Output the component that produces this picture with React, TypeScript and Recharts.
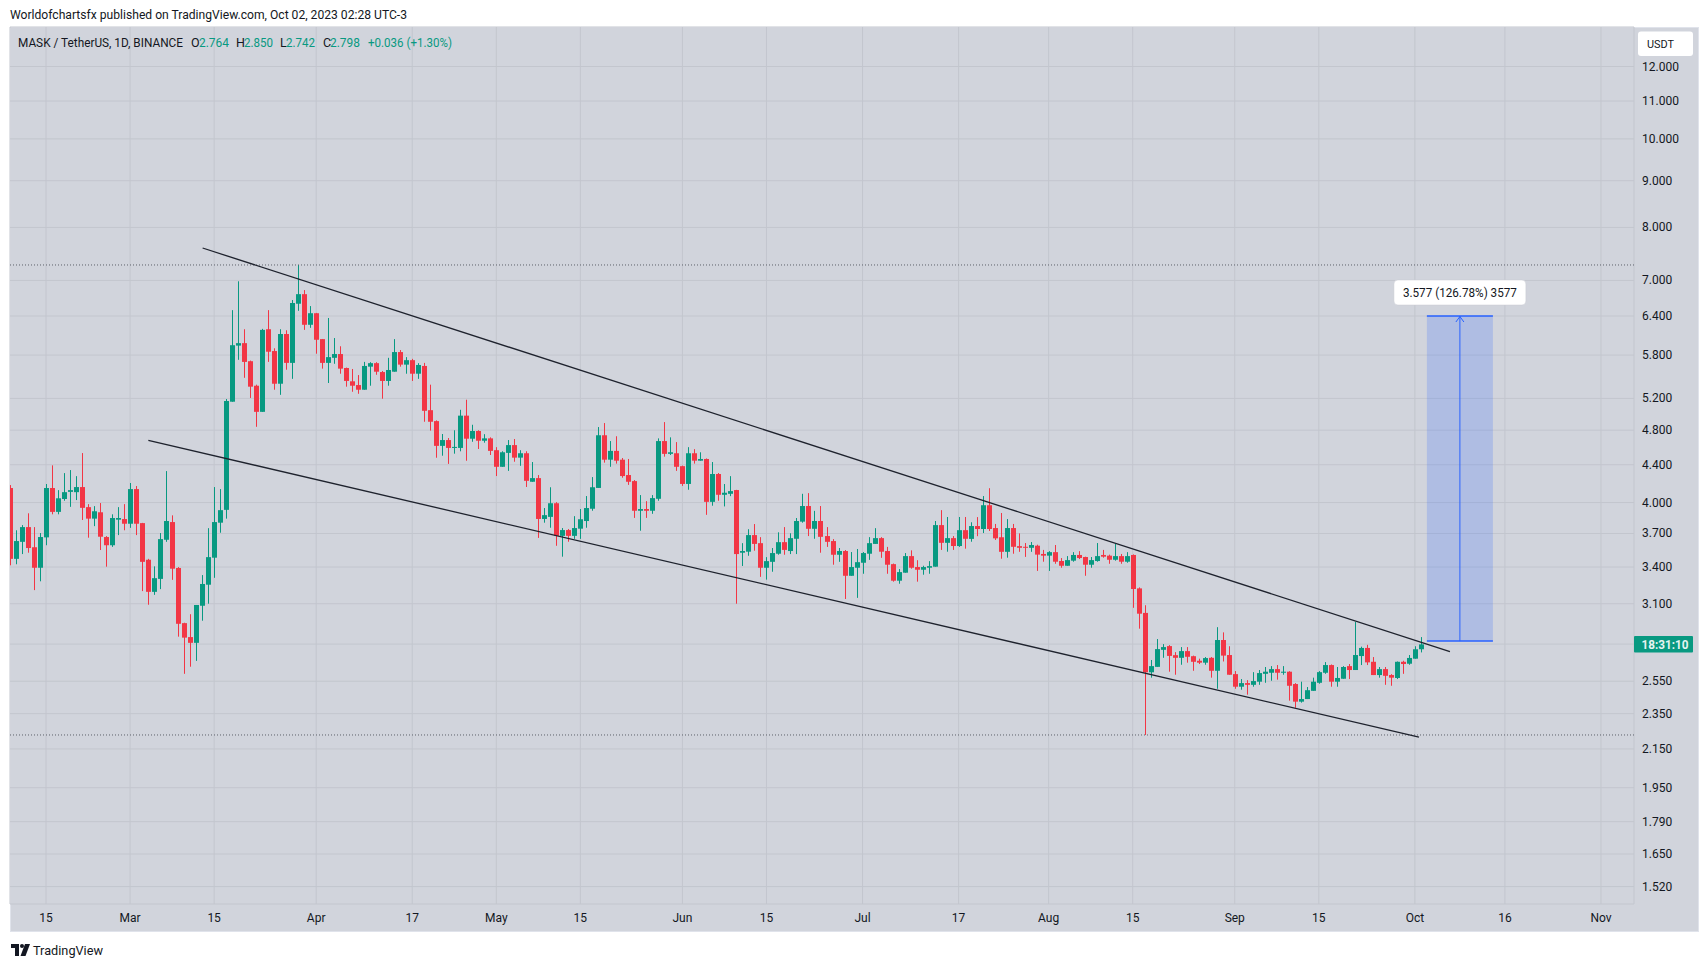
import React from 'react';
import {
  ComposedChart,
  Bar,
  XAxis,
  YAxis,
  CartesianGrid,
  ReferenceLine,
  ReferenceArea,
  ReferenceDot,
} from 'recharts';

// ---------- data ----------
// day-of-year of the first candle (2023-02-09), one candle per day
const FIRST_DAY = 40;

const open = [
  4.149, 3.471, 3.623, 3.76, 3.574, 3.394, 3.664, 4.149, 3.907, 4.036,
  4.109, 4.106, 4.159, 3.954, 3.841, 3.903, 3.667, 3.592, 3.831, 3.837,
  3.792, 4.138, 3.798, 3.463, 3.194, 3.3, 3.642, 3.808, 3.392, 2.952,
  2.85, 2.809, 3.084, 3.252, 3.481, 3.802, 3.927, 5.157, 5.94, 5.977,
  5.711, 5.369, 5.027, 6.19, 5.859, 5.396, 6.116, 5.687, 6.601, 6.762,
  6.26, 6.445, 6.038, 5.687, 5.76, 5.815, 5.614, 5.429, 5.378, 5.315,
  5.633, 5.683, 5.557, 5.434, 5.562, 5.844, 5.662, 5.726, 5.534, 5.643,
  5.048, 4.911, 4.614, 4.682, 4.59, 4.59, 4.979, 4.698, 4.79, 4.674,
  4.702, 4.564, 4.377, 4.533, 4.623, 4.479, 4.529, 4.215, 4.254, 3.838,
  3.858, 3.993, 3.678, 3.732, 3.678, 3.745, 3.818, 3.938, 4.15, 4.739,
  4.456, 4.556, 4.456, 4.287, 4.222, 3.918, 3.935, 3.918, 4.038, 4.67,
  4.522, 4.529, 4.384, 4.192, 4.529, 4.445, 4.464, 4.007, 4.298, 4.079,
  4.089, 4.128, 3.525, 3.534, 3.685, 3.611, 3.394, 3.445, 3.516, 3.62,
  3.54, 3.651, 3.812, 3.965, 3.744, 3.818, 3.676, 3.63, 3.507, 3.54,
  3.326, 3.394, 3.437, 3.516, 3.604, 3.657, 3.54, 3.425, 3.285, 3.352,
  3.495, 3.4, 3.377, 3.394, 3.403, 3.779, 3.614, 3.657, 3.585, 3.731,
  3.65, 3.77, 3.742, 3.973, 3.751, 3.665, 3.533, 3.751, 3.584, 3.578,
  3.569, 3.588, 3.514, 3.499, 3.53, 3.452, 3.411, 3.455, 3.505, 3.487,
  3.42, 3.452, 3.505, 3.499, 3.463, 3.495, 3.446, 3.505, 3.222, 3.029,
  2.608, 2.644, 2.76, 2.786, 2.723, 2.705, 2.751, 2.716, 2.685, 2.672,
  2.705, 2.618, 2.829, 2.724, 2.596, 2.515, 2.538, 2.527, 2.547, 2.598,
  2.605, 2.629, 2.605, 2.612, 2.532, 2.422, 2.438, 2.489, 2.54, 2.605,
  2.656, 2.547, 2.566, 2.649, 2.623, 2.717, 2.773, 2.678, 2.59, 2.629,
  2.59, 2.571, 2.678, 2.665, 2.699, 2.764,
];

const high = [
  4.18, 3.73, 3.779, 3.893, 3.76, 3.704, 4.191, 4.393, 4.127, 4.308,
  4.341, 4.275, 4.531, 3.984, 3.964, 3.995, 3.676, 3.883, 3.954, 3.984,
  4.202, 4.17, 3.8, 3.471, 3.406, 3.704, 4.33, 3.873, 3.4, 2.955,
  3.019, 3.09, 3.332, 3.75, 4.159, 4.138, 5.192, 6.495, 6.985, 6.19,
  5.72, 5.383, 6.196, 6.495, 5.9, 6.19, 6.174, 6.663, 7.278, 6.832,
  6.562, 6.45, 6.04, 6.368, 6.054, 5.93, 5.62, 5.6, 5.515, 5.701,
  5.697, 5.697, 5.572, 5.76, 6.038, 5.874, 5.77, 5.745, 5.683, 5.687,
  5.383, 4.92, 4.754, 4.706, 4.799, 5.053, 5.183, 4.866, 4.799, 4.752,
  4.714, 4.599, 4.552, 4.682, 4.694, 4.564, 4.552, 4.43, 4.287, 3.945,
  4.157, 4.004, 3.751, 3.742, 3.865, 3.935, 4.066, 4.265, 4.838, 4.887,
  4.67, 4.727, 4.475, 4.464, 4.233, 4.076, 4.014, 4.076, 4.702, 4.899,
  4.714, 4.658, 4.39, 4.599, 4.576, 4.54, 4.47, 4.43, 4.309, 4.191,
  4.275, 4.13, 3.611, 3.74, 3.789, 3.666, 3.486, 3.567, 3.711, 3.76,
  3.702, 3.847, 4.089, 4.096, 3.917, 3.965, 3.76, 3.648, 3.567, 3.549,
  3.531, 3.558, 3.531, 3.666, 3.75, 3.666, 3.577, 3.43, 3.383, 3.522,
  3.546, 3.459, 3.411, 3.451, 3.818, 3.924, 3.857, 3.676, 3.857, 3.857,
  3.806, 3.856, 4.066, 4.147, 3.79, 3.896, 3.837, 3.79, 3.701, 3.612,
  3.621, 3.597, 3.55, 3.539, 3.594, 3.478, 3.495, 3.53, 3.539, 3.49,
  3.487, 3.612, 3.55, 3.508, 3.603, 3.514, 3.53, 3.51, 3.23, 3.088,
  2.69, 2.836, 2.8, 2.793, 2.744, 2.779, 2.779, 2.72, 2.699, 2.71,
  2.71, 2.922, 2.884, 2.785, 2.616, 2.564, 2.557, 2.609, 2.623, 2.643,
  2.649, 2.656, 2.649, 2.615, 2.538, 2.547, 2.513, 2.573, 2.616, 2.676,
  2.66, 2.643, 2.649, 2.663, 2.96, 2.782, 2.795, 2.71, 2.643, 2.643,
  2.596, 2.68, 2.685, 2.724, 2.785, 2.85,
];

const low = [
  3.415, 3.424, 3.513, 3.525, 3.208, 3.28, 3.592, 3.883, 3.883, 4.018,
  3.957, 4.025, 3.828, 3.661, 3.769, 3.549, 3.403, 3.577, 3.685, 3.73,
  3.753, 3.685, 3.2, 3.092, 3.17, 3.216, 3.623, 3.292, 2.853, 2.598,
  2.645, 2.684, 2.97, 3.1, 3.309, 3.707, 3.841, 5.157, 5.731, 5.477,
  5.206, 4.841, 5.027, 5.701, 5.315, 5.247, 5.59, 5.463, 6.484, 6.18,
  6.212, 5.82, 5.605, 5.406, 5.674, 5.534, 5.356, 5.288, 5.261, 5.315,
  5.369, 5.519, 5.196, 5.369, 5.562, 5.633, 5.534, 5.434, 5.463, 4.903,
  4.795, 4.478, 4.501, 4.409, 4.524, 4.551, 4.444, 4.662, 4.578, 4.651,
  4.509, 4.276, 4.377, 4.332, 4.433, 4.388, 4.16, 4.215, 3.659, 3.802,
  3.754, 3.587, 3.49, 3.624, 3.65, 3.65, 3.754, 3.918, 4.15, 4.423,
  4.377, 4.412, 4.258, 4.182, 3.848, 3.726, 3.848, 3.888, 4.018, 4.49,
  4.509, 4.332, 4.171, 4.131, 4.412, 4.445, 3.878, 3.968, 4.018, 3.961,
  4.065, 3.1, 3.409, 3.498, 3.543, 3.317, 3.294, 3.36, 3.507, 3.507,
  3.513, 3.513, 3.802, 3.676, 3.651, 3.525, 3.577, 3.42, 3.445, 3.137,
  3.326, 3.146, 3.343, 3.462, 3.604, 3.48, 3.343, 3.277, 3.26, 3.352,
  3.386, 3.277, 3.335, 3.343, 3.403, 3.55, 3.534, 3.55, 3.577, 3.561,
  3.624, 3.675, 3.704, 3.723, 3.64, 3.472, 3.481, 3.516, 3.533, 3.488,
  3.533, 3.367, 3.446, 3.367, 3.428, 3.394, 3.411, 3.446, 3.469, 3.326,
  3.394, 3.446, 3.481, 3.428, 3.455, 3.428, 3.437, 3.068, 2.911, 2.227,
  2.573, 2.644, 2.705, 2.612, 2.592, 2.658, 2.672, 2.618, 2.663, 2.658,
  2.573, 2.502, 2.68, 2.592, 2.502, 2.496, 2.465, 2.515, 2.527, 2.54,
  2.553, 2.56, 2.592, 2.428, 2.385, 2.416, 2.438, 2.489, 2.534, 2.598,
  2.515, 2.515, 2.566, 2.564, 2.623, 2.656, 2.656, 2.59, 2.573, 2.527,
  2.521, 2.564, 2.598, 2.658, 2.699, 2.742,
];

const close = [
  3.471, 3.63, 3.76, 3.567, 3.394, 3.667, 4.149, 3.907, 4.043, 4.106,
  4.127, 4.159, 3.947, 3.841, 3.913, 3.67, 3.592, 3.847, 3.847, 3.792,
  4.138, 3.792, 3.445, 3.194, 3.306, 3.648, 3.818, 3.386, 2.947, 2.846,
  2.809, 3.09, 3.258, 3.486, 3.808, 3.924, 5.166, 5.946, 5.977, 5.701,
  5.356, 5.027, 6.18, 5.849, 5.396, 6.116, 5.687, 6.613, 6.762, 6.26,
  6.445, 6.028, 5.687, 5.77, 5.815, 5.605, 5.434, 5.369, 5.315, 5.643,
  5.683, 5.562, 5.434, 5.586, 5.844, 5.662, 5.726, 5.534, 5.657, 5.04,
  4.903, 4.614, 4.682, 4.59, 4.602, 4.979, 4.698, 4.79, 4.674, 4.702,
  4.556, 4.377, 4.54, 4.623, 4.479, 4.529, 4.225, 4.254, 3.838, 3.875,
  3.993, 3.678, 3.732, 3.678, 3.751, 3.835, 3.945, 4.157, 4.739, 4.456,
  4.556, 4.445, 4.276, 4.215, 3.918, 3.935, 3.918, 4.045, 4.67, 4.522,
  4.54, 4.377, 4.192, 4.529, 4.445, 4.464, 4.007, 4.298, 4.079, 4.1,
  4.117, 3.513, 3.54, 3.685, 3.604, 3.394, 3.451, 3.522, 3.62, 3.55,
  3.657, 3.818, 3.965, 3.744, 3.818, 3.669, 3.623, 3.507, 3.54, 3.326,
  3.4, 3.442, 3.522, 3.611, 3.657, 3.534, 3.42, 3.285, 3.357, 3.495,
  3.394, 3.377, 3.4, 3.408, 3.779, 3.614, 3.657, 3.585, 3.731, 3.651,
  3.77, 3.742, 3.973, 3.742, 3.655, 3.533, 3.751, 3.578, 3.569, 3.569,
  3.594, 3.508, 3.499, 3.53, 3.446, 3.411, 3.46, 3.505, 3.478, 3.42,
  3.46, 3.495, 3.49, 3.463, 3.495, 3.446, 3.495, 3.217, 3.023, 2.608,
  2.649, 2.765, 2.779, 2.718, 2.705, 2.751, 2.712, 2.678, 2.672, 2.703,
  2.618, 2.829, 2.72, 2.592, 2.515, 2.538, 2.527, 2.551, 2.603, 2.612,
  2.629, 2.605, 2.612, 2.521, 2.422, 2.438, 2.493, 2.547, 2.609, 2.656,
  2.547, 2.571, 2.643, 2.623, 2.724, 2.773, 2.674, 2.59, 2.629, 2.585,
  2.573, 2.678, 2.663, 2.704, 2.764, 2.798,
];

// x axis: day-of-year of each labelled date
const xTicks = [46, 60, 74, 91, 107, 121, 135, 152, 166, 182, 198, 213, 227, 244, 258, 274, 289, 305];
const xTickLabels = ['15', 'Mar', '15', 'Apr', '17', 'May', '15', 'Jun', '15', 'Jul', '17', 'Aug', '15', 'Sep', '15', 'Oct', '16', 'Nov'];

// y axis (log) tick prices
const yTicks = [12, 11, 10, 9, 8, 7, 6.4, 5.8, 5.2, 4.8, 4.4, 4, 3.7, 3.4, 3.1, 2.8, 2.55, 2.35, 2.15, 1.95, 1.79, 1.65, 1.52];

// drawings
const upperTrend = [{ x: 72.08, y: 7.596 }, { x: 279.84, y: 2.748 }];
const lowerTrend = [{ x: 63.04, y: 4.679 }, { x: 274.68, y: 2.215 }];
const highLevel = 7.278;
const lowLevel = 2.227;
const rangeDays = [276, 287];
const rangePrices = [2.8214, 6.4];
const rangeLabel = '3.577 (126.78%) 3577';
const lastClose = 2.798;
const countdown = '18:31:10';

// ---------- style ----------
const GREEN = '#089981';
const RED = '#f23645';
const TEXT = '#131722';
const PANEL = '#d1d4dc';
const GRID = '#c3c6ce';
const BLUE = '#2962ff';
const FONT = "Roboto, 'Liberation Sans', Arial, sans-serif";

const data = open.map((o, i) => ({
  day: FIRST_DAY + i,
  open: o,
  high: high[i],
  low: low[i],
  close: close[i],
  range: [low[i], high[i]],
}));

function Candle(props: any) {
  const { x, y, width, height, payload } = props;
  if (!payload || x == null || y == null) return null;
  const { open: o, close: c, high: h, low: l } = payload;
  const up = c >= o;
  const color = up ? GREEN : RED;
  const span = Math.log(h / l);
  const yAt = (v: number) => (span > 0 ? y + (height * Math.log(h / v)) / span : y);
  const w = Math.max(1, Math.round(width));
  const left = Math.round(x + width / 2 - w / 2);
  const cx = left + Math.floor(w / 2) + 0.5;
  const yo = yAt(o);
  const yc = yAt(c);
  const top = Math.min(yo, yc);
  const bh = Math.max(1, Math.abs(yo - yc));
  return (
    <g>
      <line x1={cx} x2={cx} y1={y} y2={y + Math.max(1, height)} stroke={color} strokeWidth={1} />
      <rect x={left} y={top} width={w} height={bh} fill={color} />
    </g>
  );
}

function XTick(props: any) {
  const { x, y, payload } = props;
  const idx = xTicks.indexOf(payload.value);
  return (
    <text x={x} y={y + 14} textAnchor="middle" dominantBaseline="central" fontSize={12} fill={TEXT} fontFamily={FONT}>
      {idx >= 0 ? xTickLabels[idx] : ''}
    </text>
  );
}

function YTick(props: any) {
  const { x, y, payload } = props;
  const v = Number(payload.value);
  // the last-price countdown badge covers the label next to it
  if (Math.abs(Math.log(v / lastClose)) < 0.03) return <g />;
  return (
    <text x={x + 8} y={y} textAnchor="start" dominantBaseline="central" fontSize={12} fill={TEXT} fontFamily={FONT}>
      {v.toFixed(3)}
    </text>
  );
}

function ArrowLine(props: any) {
  const { x1, y1, x2, y2 } = props;
  if (x1 == null) return null;
  const top = Math.min(y1, y2);
  const bottom = Math.max(y1, y2);
  const cx = x1;
  return (
    <g>
      <line x1={cx} x2={cx} y1={bottom} y2={top} stroke={BLUE} strokeWidth={1} />
      <polyline points={`${cx - 4},${top + 6} ${cx},${top + 0.5} ${cx + 4},${top + 6}`} fill="none" stroke={BLUE} strokeWidth={1} />
    </g>
  );
}

function RangeLabel(props: any) {
  const { cx, cy } = props;
  if (cx == null) return null;
  return (
    <g>
      <rect x={cx - 66} y={cy - 36} width={132} height={25} rx={4} fill="#ffffff" stroke="#c8cbd3" strokeWidth={0.5} />
      <text x={cx} y={cy - 23.5} textAnchor="middle" dominantBaseline="central" fontSize={12} fill={TEXT} fontFamily={FONT} textLength={114} lengthAdjust="spacingAndGlyphs">
        {rangeLabel}
      </text>
    </g>
  );
}

function CountdownLabel(props: any) {
  const { cx, cy } = props;
  if (cx == null) return null;
  return (
    <g>
      <rect x={cx} y={cy - 8.5} width={59} height={16.5} rx={1} fill={GREEN} />
      <text x={cx + 31} y={cy} textAnchor="middle" dominantBaseline="central" fontSize={13} fill="#e6f4f1" fontFamily={FONT} fontWeight={700} textLength={47} lengthAdjust="spacingAndGlyphs">
        {countdown}
      </text>
    </g>
  );
}

export default function App() {
  return (
    <div style={{ position: 'absolute', left: 0, top: 0, width: 1708, height: 968, background: '#ffffff', overflow: 'hidden' }}>
      <div style={{ position: 'absolute', left: 9.5, top: 26.5, width: 1689, height: 905, background: PANEL, boxSizing: 'border-box', border: '1px solid #e0e3eb' }} />
      <div style={{ position: 'absolute', left: 0, top: 0 }}>
        <ComposedChart width={1708} height={968} data={data} margin={{ top: 27, right: 10, bottom: 37, left: 10 }}>
          <CartesianGrid stroke={GRID} strokeWidth={1} />
          <XAxis
            dataKey="day"
            type="number"
            domain={[40, 310.5]}
            ticks={xTicks}
            interval={0}
            height={27}
            axisLine={false}
            tickLine={false}
            tickSize={0}
            tickMargin={0}
            allowDataOverflow
            tick={<XTick />}
          />
          <YAxis
            orientation="right"
            scale="log"
            domain={[1.4547, 13.256]}
            ticks={yTicks}
            interval={0}
            width={64}
            axisLine={false}
            tickLine={false}
            tickSize={0}
            tickMargin={0}
            allowDataOverflow
            tick={<YTick />}
          />
          <ReferenceLine y={highLevel} stroke="#5d606b" strokeWidth={1} strokeDasharray="1 2" />
          <ReferenceLine y={lowLevel} stroke="#5d606b" strokeWidth={1} strokeDasharray="1 2" />
          <ReferenceArea x1={rangeDays[0]} x2={rangeDays[1]} y1={rangePrices[0]} y2={rangePrices[1]} fill={BLUE} fillOpacity={0.2} stroke="none" ifOverflow="visible" />
          <ReferenceLine segment={[{ x: rangeDays[0], y: rangePrices[1] }, { x: rangeDays[1], y: rangePrices[1] }]} stroke={BLUE} strokeWidth={1.5} ifOverflow="visible" />
          <ReferenceLine segment={[{ x: rangeDays[0], y: rangePrices[0] }, { x: rangeDays[1], y: rangePrices[0] }]} stroke={BLUE} strokeWidth={1.5} ifOverflow="visible" />
          <ReferenceLine
            segment={[{ x: (rangeDays[0] + rangeDays[1]) / 2, y: rangePrices[0] }, { x: (rangeDays[0] + rangeDays[1]) / 2, y: rangePrices[1] }]}
            stroke={BLUE}
            ifOverflow="visible"
            shape={(p: any) => <ArrowLine {...p} />}
          />
          <Bar dataKey="range" barSize={5} shape={(p: any) => <Candle {...p} />} isAnimationActive={false} />
          <ReferenceLine segment={upperTrend} stroke="#1e222d" strokeWidth={1.3} ifOverflow="visible" />
          <ReferenceLine segment={lowerTrend} stroke="#1e222d" strokeWidth={1.3} ifOverflow="visible" />
          <ReferenceDot x={(rangeDays[0] + rangeDays[1]) / 2} y={rangePrices[1]} r={0} ifOverflow="visible" shape={(p: any) => <RangeLabel {...p} />} />
          <ReferenceDot x={310.5} y={lastClose} r={0} ifOverflow="visible" shape={(p: any) => <CountdownLabel {...p} />} />
        </ComposedChart>
      </div>
      <svg width={1708} height={968} style={{ position: 'absolute', left: 0, top: 0, pointerEvents: 'none' }}>
        <text x={10} y={14} dominantBaseline="central" fontSize={12.5} fill={TEXT} fontFamily={FONT} textLength={397} lengthAdjust="spacingAndGlyphs">
          Worldofchartsfx published on TradingView.com, Oct 02, 2023 02:28 UTC-3
        </text>
        <g fontFamily={FONT} fontSize={12.5} dominantBaseline="central">
          <text x={18} y={42} fill={TEXT} textLength={165} lengthAdjust="spacingAndGlyphs">MASK / TetherUS, 1D, BINANCE</text>
          <text x={191} y={42} fill={TEXT}>O</text>
          <text x={199} y={42} fill={GREEN} textLength={30} lengthAdjust="spacingAndGlyphs">2.764</text>
          <text x={236} y={42} fill={TEXT}>H</text>
          <text x={244} y={42} fill={GREEN} textLength={29} lengthAdjust="spacingAndGlyphs">2.850</text>
          <text x={280} y={42} fill={TEXT}>L</text>
          <text x={286} y={42} fill={GREEN} textLength={29} lengthAdjust="spacingAndGlyphs">2.742</text>
          <text x={323} y={42} fill={TEXT}>C</text>
          <text x={330} y={42} fill={GREEN} textLength={30} lengthAdjust="spacingAndGlyphs">2.798</text>
          <text x={368} y={42} fill={GREEN} textLength={84} lengthAdjust="spacingAndGlyphs">+0.036 (+1.30%)</text>
        </g>
        <rect x={1638} y={31.5} width={55} height={24.5} rx={3} fill="#ffffff" />
        <text x={1647} y={44} dominantBaseline="central" fontSize={11.5} fill={TEXT} fontFamily={FONT} textLength={27} lengthAdjust="spacingAndGlyphs">USDT</text>
        <g fill={TEXT}>
          <rect x={11} y={944} width={8} height={4} />
          <rect x={15} y={944} width={4} height={12} />
          <circle cx={22} cy={946} r={2} />
          <polygon points="25,944 30,944 25.5,956 20.5,956" />
        </g>
        <text x={33} y={950} dominantBaseline="central" fontSize={13} fill={TEXT} fontFamily={FONT} textLength={70} lengthAdjust="spacingAndGlyphs">TradingView</text>
      </svg>
    </div>
  );
}
